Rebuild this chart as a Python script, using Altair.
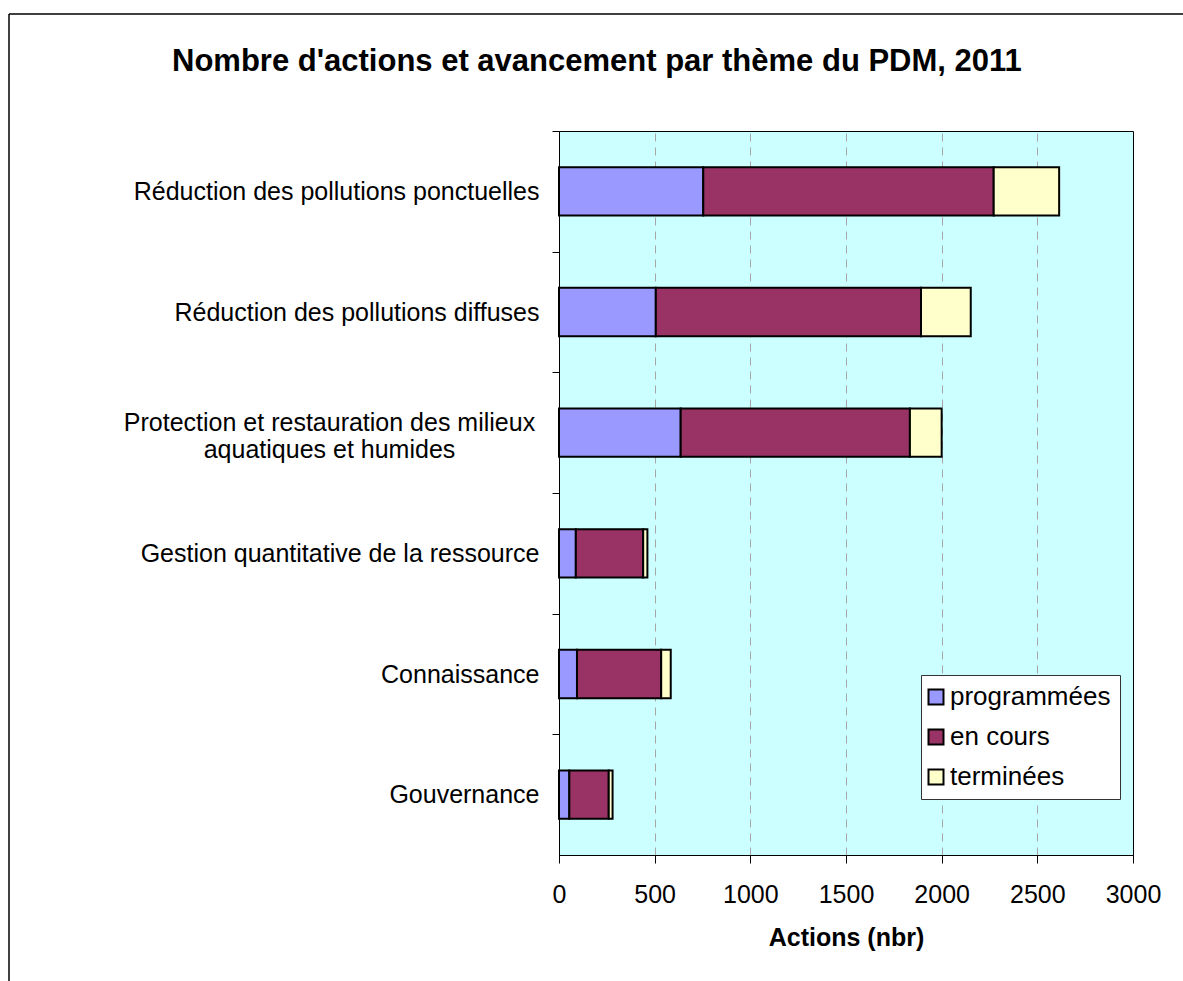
import altair as alt
import pandas as pd

# Thèmes du PDM (ordre d'affichage, de haut en bas)
themes = [
    "Réduction des pollutions ponctuelles",
    "Réduction des pollutions diffuses",
    "Protection et restauration des milieux aquatiques et humides",
    "Gestion quantitative de la ressource",
    "Connaissance",
    "Gouvernance",
]
statuts = ["programmées", "en cours", "terminées"]

# Nombre d'actions par état d'avancement
programmees = [754, 506, 636, 88, 94, 54]
en_cours = [1518, 1386, 1198, 352, 440, 206]
terminees = [342, 260, 166, 22, 50, 20]

couleurs = ["#9999FF", "#993366", "#FFFFCC"]
x_ticks = [0, 500, 1000, 1500, 2000, 2500, 3000]
titre = "Nombre d'actions et avancement par thème du PDM, 2011"

rows = []
for i, theme in enumerate(themes):
    for j, serie in enumerate([programmees, en_cours, terminees]):
        rows.append({"theme": theme, "statut": statuts[j], "ordre": j, "actions": serie[i]})
df = pd.DataFrame(rows)

W, H = 574, 724
STEP = H / len(themes)

LONG_LABEL = themes[2]
label_test = f"datum.value == '{LONG_LABEL}'"

font = "Liberation Sans"

bars = alt.Chart(df).mark_bar(stroke="black", strokeWidth=2).encode(
    y=alt.Y(
        "theme:N",
        sort=themes,
        scale=alt.Scale(paddingInner=0.6, paddingOuter=0.3),
        axis=alt.Axis(
            title=None,
            tickSize=7,
            # ticks between categories, labels kept on the bar centres
            tickOffset=-STEP / 2,
            tickColor="black",
            domainColor="black",
            labelFontSize=25,
            labelColor="black",
            labelLimit=600,
            labelLineHeight=27,
            labelAlign={"condition": {"test": label_test, "value": "center"}, "value": "right"},
            labelPadding={"condition": {"test": label_test, "value": 223}, "value": 13},
            labelOffset={
                "condition": {"test": label_test, "value": STEP / 2 - 10},
                "value": STEP / 2,
            },
            labelExpr=(
                f"datum.label == '{LONG_LABEL}' ? "
                "['Protection et restauration des milieux', 'aquatiques et humides'] : datum.label"
            ),
        ),
    ),
    x=alt.X(
        "actions:Q",
        stack="zero",
        scale=alt.Scale(domain=[0, 3000], nice=False),
        axis=alt.Axis(
            title="Actions (nbr)",
            titleFontSize=25,
            titleFontWeight="bold",
            titleColor="black",
            titlePadding=18,
            values=x_ticks,
            format="d",
            tickSize=8,
            tickColor="black",
            domainColor="black",
            labelFontSize=25,
            labelColor="black",
            labelPadding=19,
            labelFlush=False,
            grid=True,
            gridColor="#A6A6A6",
            gridDash=[8, 6],
            gridOpacity={
                "condition": {"test": "datum.value == 0 || datum.value == 3000", "value": 0},
                "value": 1,
            },
        ),
    ),
    color=alt.Color(
        "statut:N",
        sort=statuts,
        scale=alt.Scale(domain=statuts, range=couleurs),
        legend=alt.Legend(
            title=None,
            orient="none",
            legendX=362,
            legendY=544,
            fillColor="white",
            strokeColor="#333333",
            padding=9,
            symbolType="square",
            symbolSize=225,
            symbolOffset={"expr": "-7"},
            symbolStrokeColor="black",
            symbolStrokeWidth=2,
            labelFontSize=26,
            labelColor="black",
            labelOffset=1,
            rowPadding=14,
            labelLimit=300,
        ),
    ),
    order=alt.Order("ordre:Q"),
)

# Titre du graphique
title_df = pd.DataFrame({"texte": [titre]})
title_mark = alt.Chart(title_df).mark_text(
    font=font, fontSize=31, fontWeight="bold", color="black", align="left", baseline="alphabetic"
).encode(text="texte:N", x=alt.value(-387), y=alt.value(-60))

# Cadre extérieur du graphique
frame_df = pd.DataFrame({"k": [0]})
frame_top = alt.Chart(frame_df).mark_rule(color="black", strokeWidth=1.5).encode(
    x=alt.value(-550), x2=alt.value(800), y=alt.value(-117)
)
frame_left = alt.Chart(frame_df).mark_rule(color="black", strokeWidth=1.5).encode(
    x=alt.value(-550), y=alt.value(-117), y2=alt.value(1000)
)

chart = alt.layer(bars, title_mark, frame_top, frame_left).properties(
    width=W,
    height=H,
    autosize="none",
    padding={"left": 559, "top": 131, "right": 50, "bottom": 126},
).configure(
    font=font,
    background="white",
).configure_view(
    fill="#CCFFFF",
    stroke="black",
    strokeWidth=1,
)

chart.save("out.html", embed_options={"renderer": "svg", "actions": False})
